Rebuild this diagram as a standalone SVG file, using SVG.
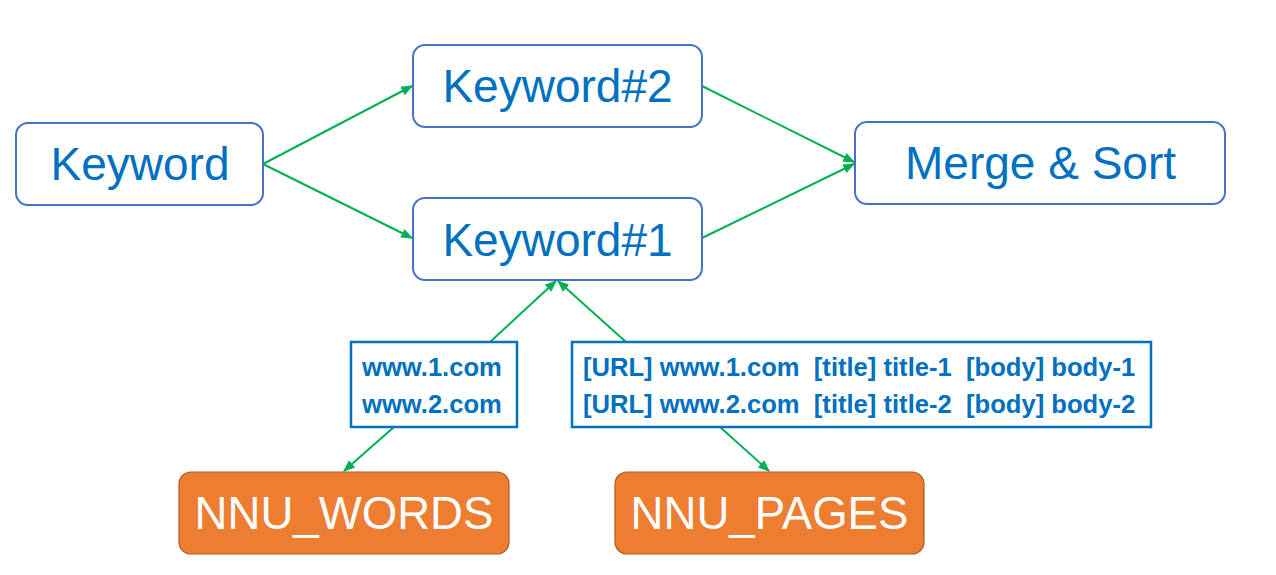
<svg xmlns="http://www.w3.org/2000/svg" width="1276" height="575" viewBox="0 0 1276 575">
<style>
.node{fill:#fff;stroke:#4472C4;stroke-width:2}
.data{fill:#fff;stroke:#0070C0;stroke-width:2.5}
.store{fill:#ED7D31;stroke:#AE5A21;stroke-width:1.2}
.lbl{font-family:"Liberation Sans",Arial,sans-serif;font-size:46px;fill:#0070C0;text-anchor:middle}
.slbl{font-family:"Liberation Sans",Arial,sans-serif;font-size:45.6px;fill:#fff;text-anchor:middle}
.dt{font-family:"Liberation Sans",Arial,sans-serif;font-size:25.6px;font-weight:bold;fill:#0070C0;white-space:pre}
.conn line{stroke:#00B050;stroke-width:2;marker-end:url(#ah)}
</style>
<defs>
<marker id="ah" viewBox="0 0 10 10" refX="9" refY="5" markerWidth="6" markerHeight="6" markerUnits="strokeWidth" orient="auto">
<path d="M0,1 L10,5 L0,9 z" fill="#00B050"/>
</marker>
</defs>
<rect width="1276" height="575" fill="#fff"/>
<g id="connectors" class="conn">
<line x1="263" y1="164" x2="412" y2="86"/>
<line x1="263" y1="164" x2="412" y2="238"/>
<line x1="702" y1="86" x2="854" y2="162"/>
<line x1="702" y1="238" x2="854" y2="164"/>
<line x1="490" y1="342" x2="556" y2="281"/>
<line x1="626" y1="342" x2="558" y2="281"/>
<line x1="394" y1="427" x2="344" y2="471"/>
<line x1="720" y1="427" x2="769" y2="471"/>
</g>
<g id="keyword">
<rect class="node" x="16" y="123" width="247" height="82" rx="12"/>
<text class="lbl" x="140" y="180">Keyword</text>
</g>
<g id="keyword2">
<rect class="node" x="413" y="45" width="289" height="82" rx="12"/>
<text class="lbl" x="557.5" y="102">Keyword#2</text>
</g>
<g id="keyword1">
<rect class="node" x="413" y="198" width="289" height="82" rx="12"/>
<text class="lbl" x="557.5" y="256">Keyword#1</text>
</g>
<g id="merge">
<rect class="node" x="855" y="122" width="370" height="82" rx="12"/>
<text class="lbl" x="1040.5" y="179">Merge &amp; Sort</text>
</g>
<g id="urls">
<rect class="data" x="351" y="342" width="166" height="85"/>
<text class="dt" x="362" y="376">www.1.com</text>
<text class="dt" x="362" y="413">www.2.com</text>
</g>
<g id="pages">
<rect class="data" x="572" y="342" width="579" height="85"/>
<text class="dt" x="583" y="376">[URL] www.1.com  [title] title-1  [body] body-1</text>
<text class="dt" x="583" y="413">[URL] www.2.com  [title] title-2  [body] body-2</text>
</g>
<g id="nnu_words">
<rect class="store" x="179" y="472" width="330" height="82" rx="12"/>
<text class="slbl" x="344" y="529">NNU_WORDS</text>
</g>
<g id="nnu_pages">
<rect class="store" x="615" y="472" width="309" height="82" rx="12"/>
<text class="slbl" x="769.5" y="529">NNU_PAGES</text>
</g>
</svg>
